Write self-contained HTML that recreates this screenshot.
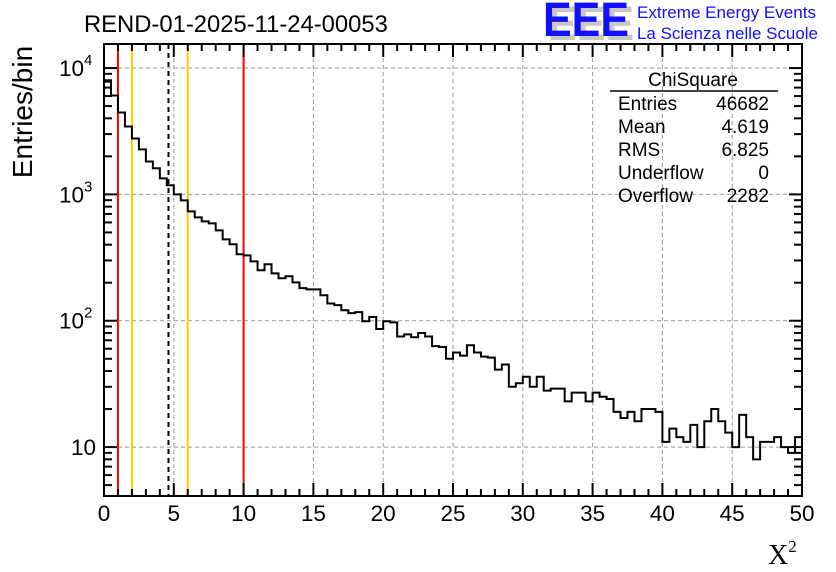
<!DOCTYPE html>
<html><head><meta charset="utf-8"><style>
body{margin:0;background:#fff;}
svg{display:block;font-family:"Liberation Sans",sans-serif;}
</style></head><body>
<svg id="chart" width="836" height="572" viewBox="0 0 836 572" xmlns="http://www.w3.org/2000/svg">
<rect x="0" y="0" width="836" height="572" fill="#fff"/>
<text x="84" y="32" font-size="23.8" fill="#000">REND-01-2025-11-24-00053</text>
<g>
<text x="548" y="40" font-size="48" fill="#c8c8c8" font-weight="bold" textLength="86" lengthAdjust="spacingAndGlyphs">EEE</text>
<text x="543" y="36" font-size="48" fill="#1010ff" font-weight="bold" textLength="86" lengthAdjust="spacingAndGlyphs">EEE</text>
<text x="637" y="18" font-size="16.5" fill="#1010ff" textLength="179" lengthAdjust="spacingAndGlyphs">Extreme Energy Events</text>
<text x="637" y="39" font-size="16.5" fill="#1010ff" textLength="181" lengthAdjust="spacingAndGlyphs">La Scienza nelle Scuole</text>
</g>
<g id="grid"></g>
<g id="lines"></g>
<path id="hist" fill="none" stroke="#000" stroke-width="2"/>
<g id="axes"></g>
<text transform="translate(32,112) rotate(-90)" text-anchor="middle" font-size="28">Entries/bin</text>
<text x="768" y="564" font-family="Liberation Serif,serif" font-size="28">X<tspan font-size="17" dy="-12">2</tspan></text>
<g font-size="19">
<text x="693" y="86" text-anchor="middle">ChiSquare</text>
<line x1="610" y1="91" x2="778" y2="91" stroke="#000" stroke-width="1.5"/>
<text x="618" y="110">Entries</text><text x="769" y="110" text-anchor="end">46682</text>
<text x="618" y="133">Mean</text><text x="769" y="133" text-anchor="end">4.619</text>
<text x="618" y="156">RMS</text><text x="769" y="156" text-anchor="end">6.825</text>
<text x="618" y="179">Underflow</text><text x="769" y="179" text-anchor="end">0</text>
<text x="618" y="202">Overflow</text><text x="769" y="202" text-anchor="end">2282</text>
</g>
</svg>
<script>
const counts=[7800,6070,4450,3450,2770,2270,1820,1610,1340,1180,
1000,897,734,658,612,590,519,441,403,336,
329,295,251,280,237,217,225,201,181,177,
177,159,137,133,121,115,117,99,107,86,
99,97,75,78,74,80,75,63,62,50,
56,53,64,56,52,51,41,45,30,32,
36,30,36,28,29,29,23,27,27,23,
27,25,24,19,17,19,16,20,20,19,
11,14,12,11,15,10,16,20,16,13,
10,18,12,8,11,11,12,10,9,12];
const binWidth=[0.5];
const xTicks=[0,5,10,15,20,25,30,35,40,45,50];
const yDecades=[10,100,1000,10000];
const yTickLabels=["10","10^2","10^3","10^4"];
const redLines=[1,10];
const orangeLines=[2,6];
const meanLine=[4.619];

const L=104,R=802,T=44,B=496,xmin=0,xmax=50,ymin=4.1,ymax=15500;
const NS="http://www.w3.org/2000/svg";
const X=v=>L+(v-xmin)/(xmax-xmin)*(R-L);
const Y=v=>B-(Math.log10(v)-Math.log10(ymin))/(Math.log10(ymax)-Math.log10(ymin))*(B-T);
function mk(tag,attrs,parent){const e=document.createElementNS(NS,tag);for(const k in attrs)e.setAttribute(k,attrs[k]);parent.appendChild(e);return e;}
const grid=document.getElementById('grid'),axes=document.getElementById('axes'),lines=document.getElementById('lines');
xTicks.forEach(t=>{if(t>xmin&&t<xmax){const g=mk('line',{x1:X(t),x2:X(t),y1:T,y2:B,stroke:'#999','stroke-dasharray':'4,3','stroke-width':1},grid);

}});
yDecades.forEach(t=>{const g=mk('line',{x1:L,x2:R,y1:Y(t),y2:Y(t),stroke:'#999','stroke-dasharray':'4,3','stroke-width':1},grid);

});
function vline(v,color,dash,name){const l=mk('line',{x1:X(v),x2:X(v),y1:T,y2:B,stroke:color,'stroke-width':2},lines);if(dash)l.setAttribute('stroke-dasharray',dash);

}
redLines.forEach(v=>vline(v,'#ff0000',null,'red-marker-line'));
orangeLines.forEach(v=>vline(v,'#ffcc00',null,'orange-marker-line'));
meanLine.forEach(v=>vline(v,'#000',"5,4",'mean-marker-line'));
let d='M'+X(0)+','+B;
counts.forEach((c,i)=>{const x0=X(i*binWidth[0]),x1=X((i+1)*binWidth[0]),y=Y(c);d+=' L'+x0+','+y+' L'+x1+','+y;});
d+=' L'+X(counts.length*binWidth[0])+','+B;
document.getElementById('hist').setAttribute('d',d);
const fr=mk('rect',{x:L,y:T,width:R-L,height:B-T,fill:'none',stroke:'#000','stroke-width':2},axes);


for(let v=xmin;v<=xmax;v+=1){const major=v%5===0;const len=major?13:7;
mk('line',{x1:X(v),x2:X(v),y1:B,y2:B-len,stroke:'#000','stroke-width':2},axes);
mk('line',{x1:X(v),x2:X(v),y1:T,y2:T+len,stroke:'#000','stroke-width':2},axes);}
xTicks.forEach(t=>{const tx=mk('text',{x:X(t),y:B+25,'text-anchor':'middle','font-size':22.5},axes);tx.textContent=t;

});
for(let e=0;e<=4;e++){for(let m=1;m<=9;m++){const v=m*Math.pow(10,e);if(v<ymin||v>ymax)continue;const len=m===1?13:8;
mk('line',{x1:L,x2:L+len,y1:Y(v),y2:Y(v),stroke:'#000','stroke-width':2},axes);
mk('line',{x1:R,x2:R-len,y1:Y(v),y2:Y(v),stroke:'#000','stroke-width':2},axes);}}
yDecades.forEach((t,i)=>{const lab=yTickLabels[i];const tx=mk('text',{x:L-8,y:Y(t)+8,'text-anchor':'end','font-size':22.5},axes);


if(lab.indexOf('^')>=0){const p=lab.split('^');tx.setAttribute('x',L-20);tx.textContent=p[0];
const s=mk('text',{x:L-20,y:Y(t)-3,'font-size':15},axes);s.textContent=p[1];

}else tx.textContent=lab;});
</script>
</body></html>
